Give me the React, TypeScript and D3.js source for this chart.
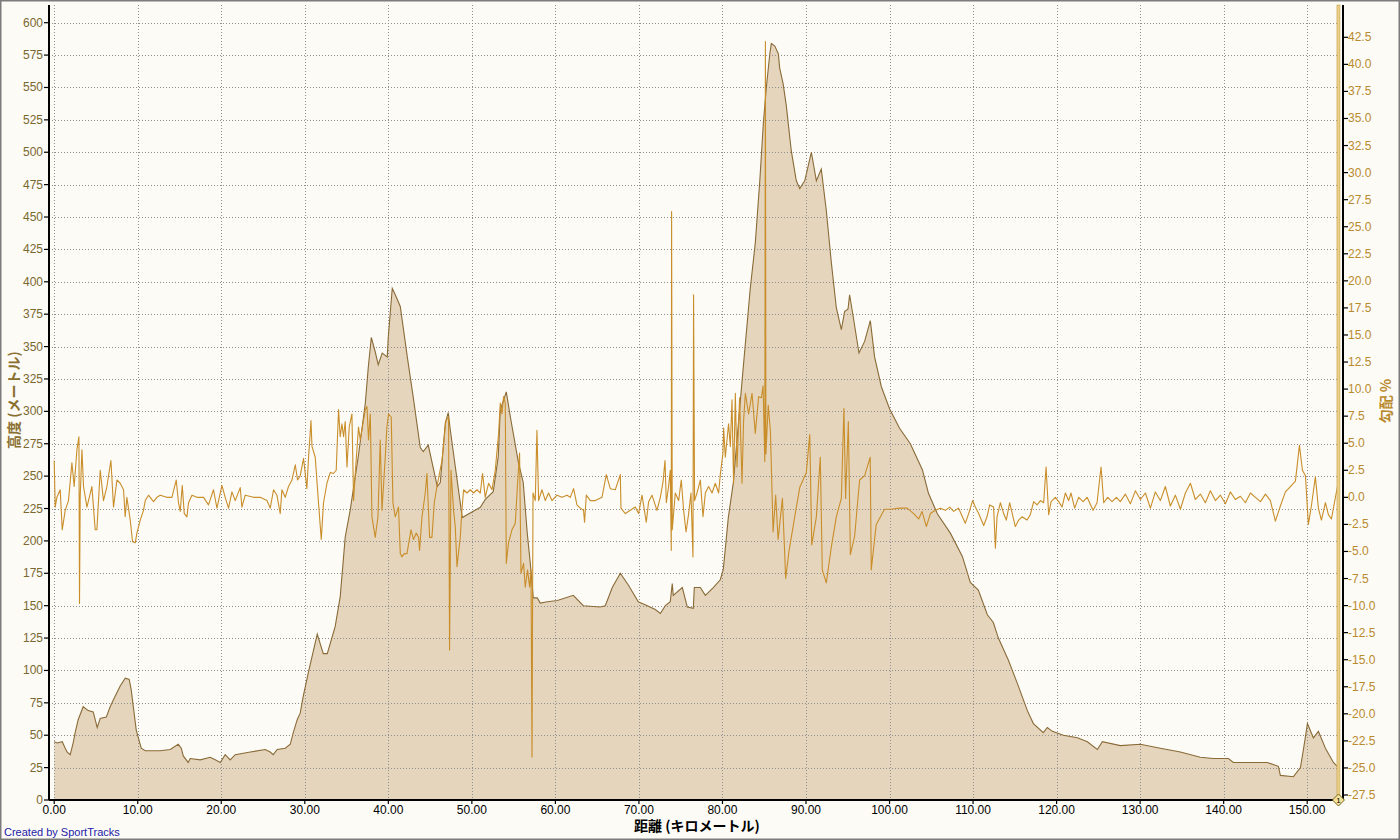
import React from "react";
import * as d3 from "d3";

// ---------- DATA ----------
// distance (km), elevation (m)
const elevationProfile: [number, number][] = [
  [0.0, 45], [0.36, 44], [0.96, 45], [1.32, 40], [1.56, 37], [1.92, 35], [2.27, 44], [2.51, 52],
  [2.87, 62], [3.47, 72], [4.07, 69], [4.67, 68], [5.15, 56], [5.51, 63], [6.23, 64], [6.7, 72],
  [7.06, 77], [7.9, 88], [8.5, 94], [8.98, 93], [9.22, 85], [9.82, 54], [10.42, 40], [10.9, 38],
  [11.49, 38], [12.69, 38], [13.89, 39], [14.85, 43], [15.21, 40], [15.45, 34], [16.04, 29],
  [16.28, 32], [17.48, 31], [18.68, 33], [19.28, 31], [19.88, 29], [20.47, 35], [21.07, 31],
  [21.67, 35], [23.47, 37], [25.26, 39], [25.86, 37], [26.22, 35], [26.7, 39], [27.66, 40],
  [28.26, 43], [28.62, 52], [29.09, 62], [29.45, 67], [29.81, 80], [30.41, 98], [31.49, 128],
  [32.21, 113], [32.69, 113], [33.64, 134], [34.24, 157], [34.84, 203], [35.44, 224], [36.4, 265],
  [37.24, 306], [37.6, 334], [37.96, 357], [38.43, 346], [38.79, 336], [39.27, 345], [39.87, 342],
  [39.99, 357], [40.47, 395], [40.83, 390], [41.43, 381], [42.27, 342], [42.98, 311], [43.82, 272],
  [44.18, 269], [44.78, 274], [45.86, 242], [46.22, 245], [46.82, 291], [47.17, 299], [47.41, 286],
  [48.85, 218], [51.01, 226], [51.61, 232], [52.56, 238], [53.16, 265], [53.4, 301], [54.12, 315],
  [54.6, 296], [55.56, 261], [56.15, 245], [56.63, 206], [56.99, 183], [57.35, 156], [57.83, 156],
  [58.19, 152], [59.03, 153], [60.23, 154], [62.14, 158], [63.34, 150], [65.37, 149], [65.97, 150],
  [66.81, 164], [67.77, 175], [68.73, 166], [69.92, 153], [71.0, 150], [71.96, 147], [72.56, 144],
  [73.16, 150], [73.75, 153], [73.99, 167], [74.11, 158], [75.19, 164], [75.79, 149], [76.51, 148],
  [76.63, 164], [77.35, 164], [77.95, 158], [78.9, 164], [79.74, 170], [80.1, 178], [80.7, 218],
  [81.3, 245], [82.38, 326], [83.33, 395], [83.93, 430], [84.47, 478], [84.89, 522], [85.25, 550],
  [85.67, 576], [85.85, 584], [86.27, 582], [86.69, 576], [86.85, 565], [87.26, 553], [87.64, 536],
  [88.24, 501], [88.84, 478], [89.25, 472], [89.85, 478], [90.64, 500], [91.24, 478], [91.83, 487],
  [92.43, 455], [93.03, 415], [93.63, 380], [94.23, 363], [94.62, 377], [95.03, 379], [95.22, 390],
  [95.63, 374], [96.34, 345], [97.02, 354], [97.7, 370], [98.21, 342], [99.02, 319], [100.0, 302],
  [101.2, 287], [102.49, 275], [103.93, 255], [104.65, 237], [105.72, 221], [107.28, 206],
  [108.72, 188], [109.67, 168], [110.63, 162], [111.71, 143], [112.43, 137], [113.03, 125],
  [114.22, 108], [115.3, 90], [116.5, 69], [117.22, 59], [118.41, 52], [118.89, 56], [119.49, 53],
  [120.81, 50], [122.49, 48], [123.68, 45], [124.88, 39], [125.48, 45], [127.63, 42], [130.03, 43],
  [132.42, 40], [134.82, 37], [137.21, 33], [138.77, 32], [140.57, 32], [141.16, 29], [145.23, 29],
  [146.55, 26], [146.79, 19], [148.35, 18], [149.19, 25], [149.55, 39], [150.03, 59], [150.74, 48],
  [151.34, 53], [152.18, 40], [153.14, 29], [153.74, 25],
];

// distance (km), grade (%)
const gradeProfile: [number, number][] = [
  [0.0, 3.4], [0.12, -0.9], [0.32, 0], [0.72, 0.7], [0.96, -3.0], [1.32, -1.2], [1.71, -0.3],
  [2.12, 3.2], [2.39, 1.0], [2.72, 4.4], [2.96, 5.6], [3.03, -9.8], [3.11, 0], [3.32, 4.4],
  [3.51, 1.0], [3.92, -0.9], [4.51, 1.0], [4.91, -3.0], [5.11, -3.0], [5.51, 2.5], [5.9, -0.3],
  [6.31, 1.0], [6.79, 3.4], [7.1, -0.9], [7.51, 1.6], [7.9, 1.3], [8.3, 0.7], [8.5, -1.8], [8.7, 0],
  [9.1, -2.1], [9.38, -4.1], [9.7, -4.2], [9.9, -3.3], [10.3, -2.1], [10.69, -1.2], [10.9, -0.3],
  [11.29, 0.2], [11.89, -0.4], [12.3, 0], [12.69, 0.2], [13.49, 0], [14.09, 0], [14.61, 1.6],
  [14.88, -0.5], [15.09, -1.3], [15.33, 1.1], [15.57, -1.5], [15.89, -1.8], [16.08, -0.5],
  [16.49, 0.2], [17.09, 0], [17.88, 0], [18.47, -0.7], [19.07, 0.7], [19.48, -1.0], [20.08, 1.1],
  [20.47, 0], [20.87, -1.0], [21.28, 0.5], [21.67, -0.3], [22.27, 0.9], [22.47, -0.9], [22.87, 0.2],
  [23.86, 0], [24.66, 0], [25.47, -0.3], [25.86, -1.0], [26.26, 0.7], [26.66, 0.2], [27.06, -1.5],
  [27.26, 0.7], [27.66, 0], [28.05, 1.0], [28.46, 1.6], [28.86, 3.0], [29.13, 1.6], [29.45, 2.0],
  [29.85, 3.6], [30.25, 0.8], [30.45, 3.7], [30.74, 7.1], [30.86, 4.7], [31.25, 3.7], [31.64, -0.5],
  [31.97, -3.9], [32.24, -0.5], [32.65, 1.3], [33.05, 2.3], [33.44, 2.2], [33.76, 2.5], [34.04, 8.1],
  [34.24, 5.6], [34.45, 6.8], [34.64, 5.6], [34.84, 7.0], [35.05, 2.8], [35.32, 6.5], [35.64, 7.7],
  [35.84, -0.3], [36.04, 2.2], [36.43, 6.5], [36.64, 5.3], [36.96, 6.8], [37.24, 8.1], [37.44, 8.4],
  [37.63, 5.3], [37.84, 7.7], [38.04, -1.8], [38.43, -3.7], [38.76, -1.8], [39.03, 5.3],
  [39.24, -1.2], [39.63, 3.7], [39.83, 6.5], [40.03, 7.7], [40.35, 7.4], [40.55, -0.5], [40.83, -1.8],
  [41.22, -0.9], [41.43, -5.2], [41.63, -5.5], [41.91, -5.2], [42.23, -5.2], [42.71, -3.0],
  [43.02, -3.9], [43.34, -3.3], [43.62, -3.7], [43.74, -4.9], [44.03, -1.8], [44.42, 0.4],
  [44.62, 2.2], [44.94, -3.7], [45.22, -3.7], [45.5, -0.5], [45.82, 1.0], [46.42, 3.4], [46.9, 7.1],
  [47.21, 7.4], [47.33, -14.1], [47.5, 2.5], [47.81, -1.2], [48.01, -2.7], [48.22, -6.4],
  [48.61, -3.7], [48.81, -1.2], [49.01, 0.7], [49.41, 0.4], [49.81, 0.7], [50.2, 0.4], [50.61, 0.7],
  [51.01, 0.4], [51.28, 2.2], [51.6, 0], [52.0, 1.3], [52.41, 0.7], [52.8, 2.5], [53.2, 5.9],
  [53.4, 8.7], [53.6, 7.7], [53.8, 9.3], [54.0, 8.7], [54.12, -6.1], [54.39, -4.2], [54.8, -3.0],
  [55.2, -2.4], [55.47, 1.3], [55.71, 4.1], [55.88, -7.0], [56.19, -6.1], [56.39, -8.3],
  [56.67, -6.7], [56.91, -8.3], [57.08, -6.7], [57.2, -24.0], [57.32, 0.4], [57.59, -0.3],
  [57.79, 6.2], [57.99, -0.3], [58.39, 0.7], [58.79, -0.3], [59.18, 0.4], [59.59, -0.3], [60.19, 0.2],
  [60.79, 0], [61.39, 0.2], [61.78, 0], [62.18, 0.8], [62.58, -0.7], [62.98, -1.0], [63.37, -1.2],
  [63.49, -2.3], [63.7, 0.2], [64.18, -0.3], [64.78, -0.3], [65.58, 0], [66.09, 2.1], [66.57, 0.8],
  [67.17, 0.7], [67.77, 2.1], [67.85, -1.0], [68.37, -1.5], [68.97, -1.2], [69.56, -0.9],
  [69.96, -1.5], [70.37, 0.2], [70.88, -2.3], [71.16, -0.4], [71.56, 0.2], [72.16, -1.2], [72.56, 0],
  [72.88, 1.4], [73.12, 3.4], [73.28, -0.5], [73.55, 1.0], [73.75, 2.5], [73.87, -4.9], [73.91, 26.4],
  [73.99, -3.0], [74.35, 0.4], [74.75, -0.3], [75.07, 1.6], [75.35, -1.2], [75.64, -3.2],
  [75.95, -1.5], [76.23, 0.4], [76.47, -5.5], [76.54, 18.7], [76.66, -0.3], [76.95, 0.4],
  [77.35, 1.6], [77.67, -1.8], [77.95, 0.4], [78.34, 1.0], [78.75, 0.4], [79.14, 1.3], [79.54, 0.4],
  [79.74, 2.1], [80.06, 4.1], [80.14, 6.4], [80.34, 3.7], [80.73, 6.8], [80.94, 4.7], [81.14, 9.0],
  [81.33, 1.3], [81.54, 9.6], [81.74, 2.8], [82.05, 9.2], [82.34, 1.3], [82.53, 7.1], [82.74, 9.6],
  [83.13, 7.7], [83.54, 9.6], [83.93, 5.9], [84.33, 9.3], [84.66, 9.2], [84.86, 10.3], [85.07, 3.3],
  [85.14, 42.1], [85.2, 4.0], [85.48, 8.5], [85.74, 6.1], [86.06, -3.2], [86.37, 0.2], [86.66, -3.9],
  [87.18, -0.1], [87.57, -7.5], [87.96, -5.0], [88.65, -1.8], [89.25, 0.9], [90.04, 2.3],
  [90.45, 5.8], [90.69, -4.4], [91.24, -1.8], [91.71, 3.7], [91.95, -6.7], [92.43, -7.9],
  [93.03, -4.6], [93.63, -1.8], [94.23, -0.1], [94.54, 8.2], [94.74, -0.1], [95.07, 7.0],
  [95.31, -5.3], [95.82, -3.6], [96.42, 1.6], [97.02, 2.0], [97.69, 3.7], [97.81, -6.7],
  [98.41, -2.5], [99.4, -1.1], [100.2, -1.1], [101.2, -1.0], [102.1, -1.0], [102.89, -1.5],
  [103.49, -2.0], [103.89, -1.3], [104.41, -2.7], [104.89, -1.5], [105.48, -1.2], [106.08, -1.0],
  [106.68, -1.2], [107.2, -0.9], [107.68, -1.3], [108.27, -1.0], [109.07, -2.4], [109.47, -1.5],
  [109.95, -0.3], [110.27, -0.9], [110.67, -1.5], [111.27, -2.6], [111.67, -1.8], [111.99, -0.7],
  [112.46, -0.9], [112.67, -4.7], [112.87, -1.8], [113.27, -0.5], [113.66, -1.5], [113.98, -2.1],
  [114.38, -0.5], [115.06, -2.7], [115.46, -2.1], [115.86, -1.8], [116.46, -2.1], [116.86, -1.6],
  [117.25, -0.4], [117.66, -0.7], [118.06, -0.3], [118.45, -0.5], [118.74, 2.8], [119.05, -1.6],
  [119.34, -0.4], [119.85, 0], [120.25, -0.4], [120.65, -0.9], [121.05, 0.4], [121.44, -0.3],
  [121.73, 0.4], [122.16, -1.0], [122.64, 0], [123.17, -0.4], [123.65, 0], [124.37, -1.2],
  [124.84, -0.5], [125.32, 2.8], [125.64, -0.5], [126.11, 0], [126.64, -0.4], [127.16, 0],
  [127.63, -0.4], [128.23, 0.3], [128.83, -0.6], [129.43, 0.6], [130.03, -0.2], [130.63, 0.4],
  [131.23, -1.0], [131.82, 0.5], [132.42, -0.3], [133.02, 1.0], [133.62, -0.8], [134.22, 0.2],
  [134.82, -1.1], [135.42, 0.4], [136.02, 1.3], [136.61, -0.2], [137.21, 0.3], [137.81, -0.5],
  [138.41, 0.6], [139.01, -0.3], [139.61, 0.2], [140.21, -0.6], [140.8, 0.5], [141.4, -0.2],
  [142.0, 0.1], [142.6, -0.5], [143.2, 0.4], [143.8, 0], [144.4, -0.4], [145.0, 0.3], [145.59, -0.3],
  [146.19, -2.2], [146.79, -0.8], [147.39, 0.5], [147.99, 1.0], [148.59, 1.5], [149.07, 4.8],
  [149.43, 2.5], [149.79, 2.0], [150.14, -2.5], [150.5, -0.8], [150.98, 1.9], [151.34, -1.0],
  [151.7, -2.1], [152.18, -0.5], [152.54, -1.6], [152.9, -2.0], [153.26, -0.5], [153.74, 1.5],
];

const distanceTicks = [0, 10, 20, 30, 40, 50, 60, 70, 80, 90, 100, 110, 120, 130, 140, 150];
const elevationTicks = [0, 25, 50, 75, 100, 125, 150, 175, 200, 225, 250, 275, 300, 325, 350, 375, 400,
  425, 450, 475, 500, 525, 550, 575, 600];
const gradeTicks = [-27.5, -25, -22.5, -20, -17.5, -15, -12.5, -10, -7.5, -5, -2.5, 0, 2.5, 5, 7.5, 10,
  12.5, 15, 17.5, 20, 22.5, 25, 27.5, 30, 32.5, 35, 37.5, 40, 42.5];
const endDistance = 153.74;

// ---------- LAYOUT ----------
const W = 1400;
const H = 840;
const plotLeft = 49;
const plotRight = 1343;
const plotTop = 5;
const plotBottom = 800;

const FONT = "'Liberation Sans', Arial, sans-serif";
const CJK = "'Noto Sans CJK JP', 'Liberation Sans', sans-serif";

export default function App() {
  const x = d3.scaleLinear().domain([0, 150]).range([54.2, 1307.2]);
  const yE = d3.scaleLinear().domain([0, 600]).range([800, 22.7]);
  const yG = d3.scaleLinear().domain([-27.5, 42.5]).range([795, 37.3]);

  const area = d3
    .area<[number, number]>()
    .x((d) => x(d[0]))
    .y0(yE(0))
    .y1((d) => yE(d[1]));
  const eLine = d3
    .line<[number, number]>()
    .x((d) => x(d[0]))
    .y((d) => yE(d[1]));
  const gLine = d3
    .line<[number, number]>()
    .x((d) => x(d[0]))
    .y((d) => yG(d[1]));

  const xe = x(endDistance);

  return (
    <svg
      width={W}
      height={H}
      style={{ position: "absolute", left: 0, top: 0, display: "block" }}
      xmlns="http://www.w3.org/2000/svg"
    >
      <rect x={0} y={0} width={W} height={H} fill="#FCFBF6" />
      <rect x={0.75} y={0.75} width={W - 1.5} height={H - 1.5} fill="none" stroke="#7c7c7c" strokeWidth={1.5} />

      {/* elevation fill */}
      <path d={area(elevationProfile) || ""} fill="#E5D5BD" stroke="none" />

      {/* grid */}
      <g stroke="#8f8f8f" strokeWidth={1} strokeDasharray="1,2" shapeRendering="crispEdges">
        {elevationTicks
          .filter((t) => t > 0)
          .map((t) => (
            <line key={"h" + t} x1={plotLeft} x2={plotRight} y1={Math.round(yE(t)) + 0.5} y2={Math.round(yE(t)) + 0.5} />
          ))}
        {distanceTicks.map((t) => (
          <line key={"v" + t} x1={Math.round(x(t)) + 0.5} x2={Math.round(x(t)) + 0.5} y1={plotTop} y2={plotBottom} />
        ))}
      </g>

      {/* elevation line */}
      <path d={eLine(elevationProfile) || ""} fill="none" stroke="#8A6B38" strokeWidth={1.1} />

      {/* grade line */}
      <path d={gLine(gradeProfile) || ""} fill="none" stroke="#C98E2A" strokeWidth={1.1} strokeLinejoin="round" />

      {/* end marker line */}
      <rect x={xe - 1.5} y={plotTop} width={3} height={plotBottom - plotTop} fill="#E9CF86" stroke="#C9A24E" strokeWidth={0.6} />

      {/* axes */}
      <g stroke="#000" strokeWidth={1.5} shapeRendering="crispEdges">
        <line x1={plotLeft} x2={plotLeft} y1={plotTop} y2={plotBottom} />
        <line x1={plotRight} x2={plotRight} y1={plotTop} y2={plotBottom} />
        <line x1={plotLeft} x2={plotRight} y1={plotBottom} y2={plotBottom} />
      </g>

      {/* left ticks */}
      <g>
        {elevationTicks.map((t) => (
          <g key={"lt" + t}>
            <line x1={plotLeft - 5} x2={plotLeft} y1={yE(t)} y2={yE(t)} stroke="#000" strokeWidth={1.2} />
            <text x={plotLeft - 6} y={yE(t) + 4} textAnchor="end" fontFamily={FONT} fontSize={12} fill="#7A6830">
              {String(t)}
            </text>
          </g>
        ))}
      </g>

      {/* right ticks */}
      <g>
        {gradeTicks.map((t) => (
          <g key={"rt" + t}>
            <line x1={plotRight} x2={plotRight + 5} y1={yG(t)} y2={yG(t)} stroke="#000" strokeWidth={1.2} />
            <text x={plotRight + 5} y={yG(t) + 4} textAnchor="start" fontFamily={FONT} fontSize={12} fill="#B98A2E">
              {t.toFixed(1)}
            </text>
          </g>
        ))}
      </g>

      {/* bottom ticks */}
      <g>
        {distanceTicks.map((t) => (
          <g key={"bt" + t}>
            <line x1={x(t)} x2={x(t)} y1={plotBottom} y2={plotBottom + 4} stroke="#000" strokeWidth={1.2} />
            <text x={x(t)} y={plotBottom + 14} textAnchor="middle" fontFamily={FONT} fontSize={12} fill="#000">
              {t.toFixed(2)}
            </text>
          </g>
        ))}
      </g>

      {/* end diamond */}
      <g transform={`translate(${xe},${plotBottom})`}>
        <path d="M0,-6 L6,0 L0,6 L-6,0 Z" fill="#F4E39A" stroke="#7A6420" strokeWidth={1} />
        <text x={0} y={3} textAnchor="middle" fontFamily={FONT} fontSize={8} fill="#000">
          1
        </text>
      </g>

      {/* titles */}
      <text x={697} y={831} textAnchor="middle" fontFamily={CJK} fontWeight="bold" fontSize={14} fill="#000">
        距離 (キロメートル)
      </text>
      <text
        transform="translate(19,400) rotate(-90)"
        textAnchor="middle"
        fontFamily={CJK}
        fontWeight="bold"
        fontSize={14}
        fill="#8A7030"
      >
        高度 (メートル)
      </text>
      <text
        transform="translate(1391,401) rotate(-90)"
        textAnchor="middle"
        fontFamily={CJK}
        fontWeight="bold"
        fontSize={14}
        fill="#B98A2E"
      >
        勾配 %
      </text>
      <text x={4} y={836} fontFamily={FONT} fontSize={11} fill="#2222A8">
        Created by SportTracks
      </text>
    </svg>
  );
}
